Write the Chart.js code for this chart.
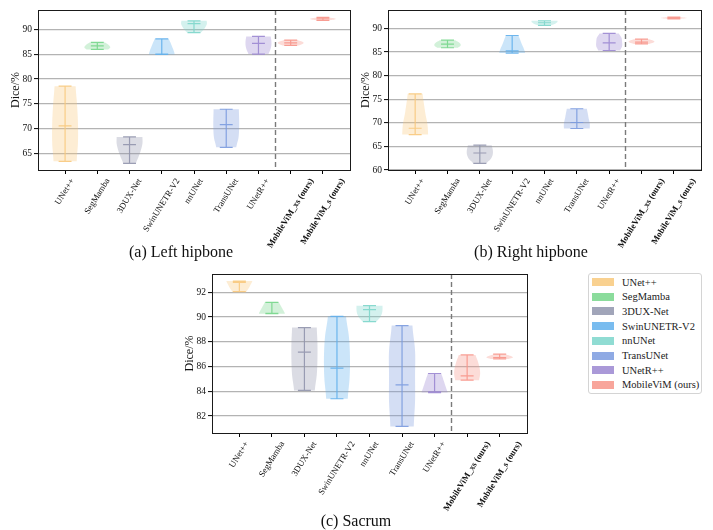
<!DOCTYPE html>
<html>
<head>
<meta charset="utf-8">
<script src="https://cdn.jsdelivr.net/npm/chart.js@4.4.1/dist/chart.umd.min.js"></script>
<style>
  body { margin: 0; background: #fff; width: 713px; height: 530px; position: relative; overflow: hidden; font-family: 'Liberation Serif', serif; }
  canvas { position: absolute; }
  .cap { position: absolute; font-size: 16px; color: #111; transform: translate(-50%, -50%); white-space: nowrap; }
  #legend { position: absolute; left: 588px; top: 273px; width: 112px; height: 119px; border: 1px solid #d4d4d4; border-radius: 3px; background: #fff; }
  .row { position: absolute; left: 3px; height: 14px; display: flex; align-items: center; font-size: 10.5px; color: #222; white-space: nowrap; }
  .sw { width: 22px; height: 8px; margin-right: 8px; }
</style>
</head>
<body>
<canvas id="cA" width="356" height="265" style="left:0;top:0"></canvas>
<canvas id="cB" width="363" height="265" style="left:350px;top:0"></canvas>
<canvas id="cC" width="360" height="266" style="left:174px;top:264px"></canvas>
<div class="cap" style="left:181px;top:252px">(a) Left hipbone</div>
<div class="cap" style="left:531px;top:252px">(b) Right hipbone</div>
<div class="cap" style="left:356px;top:521px">(c) Sacrum</div>
<div id="legend"></div>
<script>
// Categories and legend
const models = ['UNet++', 'SegMamba', '3DUX-Net', 'SwinUNETR-V2', 'nnUNet', 'TransUNet', 'UNetR++', 'MobileViM_xs (ours)', 'MobileViM_s (ours)'];
const legendNames = ['UNet++', 'SegMamba', '3DUX-Net', 'SwinUNETR-V2', 'nnUNet', 'TransUNet', 'UNetR++', 'MobileViM (ours)'];
const modelColors = ['#F8C97D', '#77D68B', '#9195AD', '#62B0EC', '#7DD6CB', '#7B9BDF', '#9B87D1', '#F7958A'];
const xRange = [-0.84, 8.84];

// (a) Left hipbone - Dice %
const leftMin = [63.45, 85.97, 63.04, 84.96, 89.35, 66.27, 85.02, 86.77, 91.81];
const leftMax = [78.57, 87.38, 68.35, 88.10, 91.73, 73.93, 88.58, 87.84, 92.42];
const leftMed = [70.57, 86.69, 66.80, 85.05, 91.15, 70.85, 87.18, 87.30, 92.14];
const leftShape = [
  [0.90, 1.00, 1.00, 0.93, 0.82],
  [0.85, 1.00, 0.95, 0.80, 0.60],
  [0.50, 0.70, 0.88, 1.00, 1.00],
  [1.00, 0.92, 0.80, 0.68, 0.55],
  [0.55, 0.75, 0.90, 1.00, 0.98],
  [0.78, 0.95, 1.00, 1.00, 0.98],
  [0.78, 0.92, 1.00, 1.00, 0.95],
  [0.65, 0.90, 1.00, 0.85, 0.55],
  [0.45, 0.85, 1.00, 0.80, 0.40]
];
const leftTicks = [65, 70, 75, 80, 85, 90];
const leftRange = [61.7, 93.9];

// (b) Right hipbone
const rightMin = [67.50, 85.90, 61.40, 84.78, 90.64, 68.79, 85.32, 86.72, 92.04];
const rightMax = [76.15, 87.50, 65.25, 88.50, 91.62, 72.98, 88.94, 87.72, 92.40];
const rightMed = [68.85, 86.65, 63.60, 85.23, 91.20, 70.06, 86.94, 87.10, 92.20];
const rightShape = [
  [1.00, 0.95, 0.80, 0.68, 0.58],
  [0.80, 1.00, 1.00, 0.85, 0.60],
  [0.52, 0.85, 1.00, 1.00, 0.92],
  [1.00, 0.90, 0.75, 0.62, 0.50],
  [0.50, 0.75, 0.90, 1.00, 1.00],
  [1.00, 1.00, 0.92, 0.85, 0.78],
  [0.85, 1.00, 1.00, 0.95, 0.75],
  [0.60, 0.90, 1.00, 0.85, 0.60],
  [0.50, 0.85, 1.00, 0.80, 0.45]
];
const rightTicks = [60, 65, 70, 75, 80, 85, 90];
const rightRange = [60, 93.9];

// (c) Sacrum
const sacrumMin = [92.05, 90.27, 84.07, 83.40, 89.63, 81.16, 83.90, 84.90, 86.62];
const sacrumMax = [92.91, 91.19, 89.15, 90.06, 90.92, 89.31, 85.44, 86.94, 87.00];
const sacrumMed = [92.80, 90.30, 87.16, 85.87, 90.60, 84.52, 83.95, 85.25, 86.73];
const sacrumShape = [
  [0.55, 0.68, 0.80, 0.90, 1.00],
  [1.00, 0.90, 0.78, 0.66, 0.55],
  [0.80, 0.95, 1.00, 1.00, 0.95],
  [0.83, 0.97, 1.00, 0.92, 0.70],
  [0.55, 0.80, 0.95, 1.00, 1.00],
  [0.90, 1.00, 1.00, 1.00, 0.80],
  [1.00, 0.88, 0.76, 0.64, 0.52],
  [0.92, 1.00, 0.95, 0.82, 0.65],
  [0.70, 1.00, 0.95, 0.70, 0.45]
];
const sacrumTicks = [82, 84, 86, 88, 90, 92];
const sacrumRange = [80.63, 93.48];

const FONT = "'Liberation Serif', 'DejaVu Serif', serif";

function hexA(hex, a) {
  const n = parseInt(hex.slice(1), 16);
  return `rgba(${n >> 16},${(n >> 8) & 255},${n & 255},${a})`;
}

// smooth width along the violin (t: 0 bottom .. 1 top)
function widthAt(s, t) {
  const n = s.length - 1;
  const f = t * n;
  const k = Math.min(Math.floor(f), n - 1);
  const u = f - k;
  const p0 = s[Math.max(k - 1, 0)], p1 = s[k], p2 = s[k + 1], p3 = s[Math.min(k + 2, n)];
  return 0.5 * (2 * p1 + (-p0 + p2) * u + (2 * p0 - 5 * p1 + 4 * p2 - p3) * u * u + (-p0 + 3 * p1 - 3 * p2 + p3) * u * u * u);
}

const violinPlugin = {
  id: 'violins',
  beforeDatasetsDraw(chart, args, o) {
    const { ctx, chartArea: a, scales: { x, y } } = chart;
    ctx.save();
    ctx.beginPath();
    ctx.rect(a.left, a.top, a.width, a.height);
    ctx.clip();
    o.mins.forEach((lo, i) => {
      const hi = o.maxs[i];
      const col = modelColors[Math.min(i, 7)];
      const cx = x.getPixelForValue(i);
      const half = x.getPixelForValue(i + 0.4) - cx;
      const N = 40, pts = [];
      for (let k = 0; k <= N; k++) {
        const t = k / N;
        pts.push([y.getPixelForValue(lo + (hi - lo) * t), half * widthAt(o.shapes[i], t)]);
      }
      ctx.beginPath();
      pts.forEach(([py, w], k) => k ? ctx.lineTo(cx + w, py) : ctx.moveTo(cx + w, py));
      for (let k = N; k >= 0; k--) ctx.lineTo(cx - pts[k][1], pts[k][0]);
      ctx.closePath();
      ctx.fillStyle = hexA(col, 0.33);
      ctx.fill();

      const bar = x.getPixelForValue(i + 0.2) - cx;
      ctx.strokeStyle = hexA(col, 0.9);
      ctx.lineWidth = 1.2;
      ctx.beginPath();
      ctx.moveTo(cx, y.getPixelForValue(lo));
      ctx.lineTo(cx, y.getPixelForValue(hi));
      [lo, hi, o.meds[i]].forEach(v => {
        const py = y.getPixelForValue(v);
        ctx.moveTo(cx - bar, py);
        ctx.lineTo(cx + bar, py);
      });
      ctx.stroke();
    });
    ctx.restore();
  },
  afterDraw(chart) {
    const { ctx, chartArea: a, scales: { x } } = chart;
    ctx.save();
    // separator between baselines and ours
    const sx = Math.round(x.getPixelForValue(6.5)) + 0.5;
    ctx.strokeStyle = '#7a7a7a';
    ctx.lineWidth = 1.4;
    ctx.setLineDash([5, 3]);
    ctx.beginPath();
    ctx.moveTo(sx, a.top);
    ctx.lineTo(sx, a.bottom);
    ctx.stroke();
    ctx.setLineDash([]);
    // frame
    ctx.strokeStyle = '#1a1a1a';
    ctx.lineWidth = 1;
    ctx.strokeRect(Math.round(a.left) + 0.5, Math.round(a.top) + 0.5, Math.round(a.width), Math.round(a.height));
    // y title
    ctx.fillStyle = '#111';
    ctx.font = `12px ${FONT}`;
    ctx.textAlign = 'center';
    ctx.textBaseline = 'middle';
    ctx.translate(a.left - 22, (a.top + a.bottom) / 2);
    ctx.rotate(-Math.PI / 2);
    ctx.fillText('Dice/%', 0, 0);
    ctx.setTransform(1, 0, 0, 1, 0, 0);
    // rotated category labels
    const th = 58 * Math.PI / 180, fs = 8.8;
    models.forEach((m, i) => {
      ctx.font = `${i >= 7 ? 'bold ' : ''}${fs}px ${FONT}`;
      const w = ctx.measureText(m).width;
      const H = w * Math.sin(th) + fs * Math.cos(th);
      ctx.setTransform(1, 0, 0, 1, x.getPixelForValue(i), a.bottom + 7 + H / 2);
      ctx.rotate(-th);
      ctx.fillStyle = '#111';
      ctx.fillText(m, 0, 0);
    });
    ctx.restore();
  }
};

function makePanel(id, mins, maxs, meds, shapes, ticks, range, padRight, xHeight) {
  new Chart(document.getElementById(id), {
    type: 'scatter',
    data: {
      datasets: [{ data: meds.map((v, i) => ({ x: i, y: v })), pointRadius: 0, showLine: false }]
    },
    options: {
      responsive: false,
      animation: false,
      devicePixelRatio: 1,
      layout: { padding: { top: 10, right: padRight, left: 0, bottom: 0 } },
      plugins: {
        legend: { display: false },
        tooltip: { enabled: false },
        violins: { mins, maxs, meds, shapes }
      },
      scales: {
        x: {
          type: 'linear',
          min: xRange[0],
          max: xRange[1],
          afterBuildTicks: s => { s.ticks = models.map((m, i) => ({ value: i })); },
          afterFit: s => { s.height = xHeight; },
          grid: { drawOnChartArea: false, drawTicks: true, tickLength: 4, tickColor: '#000', tickWidth: 1 },
          border: { display: false },
          ticks: { display: false }
        },
        y: {
          min: range[0],
          max: range[1],
          afterBuildTicks: s => { s.ticks = ticks.map(v => ({ value: v })); },
          afterFit: s => { s.width = 38; },
          grid: { color: '#b3b3b3', lineWidth: 1.2, tickLength: 4, tickColor: '#000', tickWidth: 1 },
          border: { display: false },
          ticks: { font: { family: FONT, size: 9.5 }, color: '#111', padding: 2 }
        }
      }
    },
    plugins: [violinPlugin]
  });
}

makePanel('cA', leftMin, leftMax, leftMed, leftShape, leftTicks, leftRange, 6, 95);
makePanel('cB', rightMin, rightMax, rightMed, rightShape, rightTicks, rightRange, 12, 95);
makePanel('cC', sacrumMin, sacrumMax, sacrumMed, sacrumShape, sacrumTicks, sacrumRange, 7, 97);

// legend
const lg = document.getElementById('legend');
legendNames.forEach((n, i) => {
  const r = document.createElement('div');
  r.className = 'row';
  r.style.top = (1 + i * 14.7) + 'px';
  r.innerHTML = `<span class="sw" style="background:${hexA(modelColors[i], 0.85)}"></span>${n}`;
  lg.appendChild(r);
});
</script>
</body>
</html>
